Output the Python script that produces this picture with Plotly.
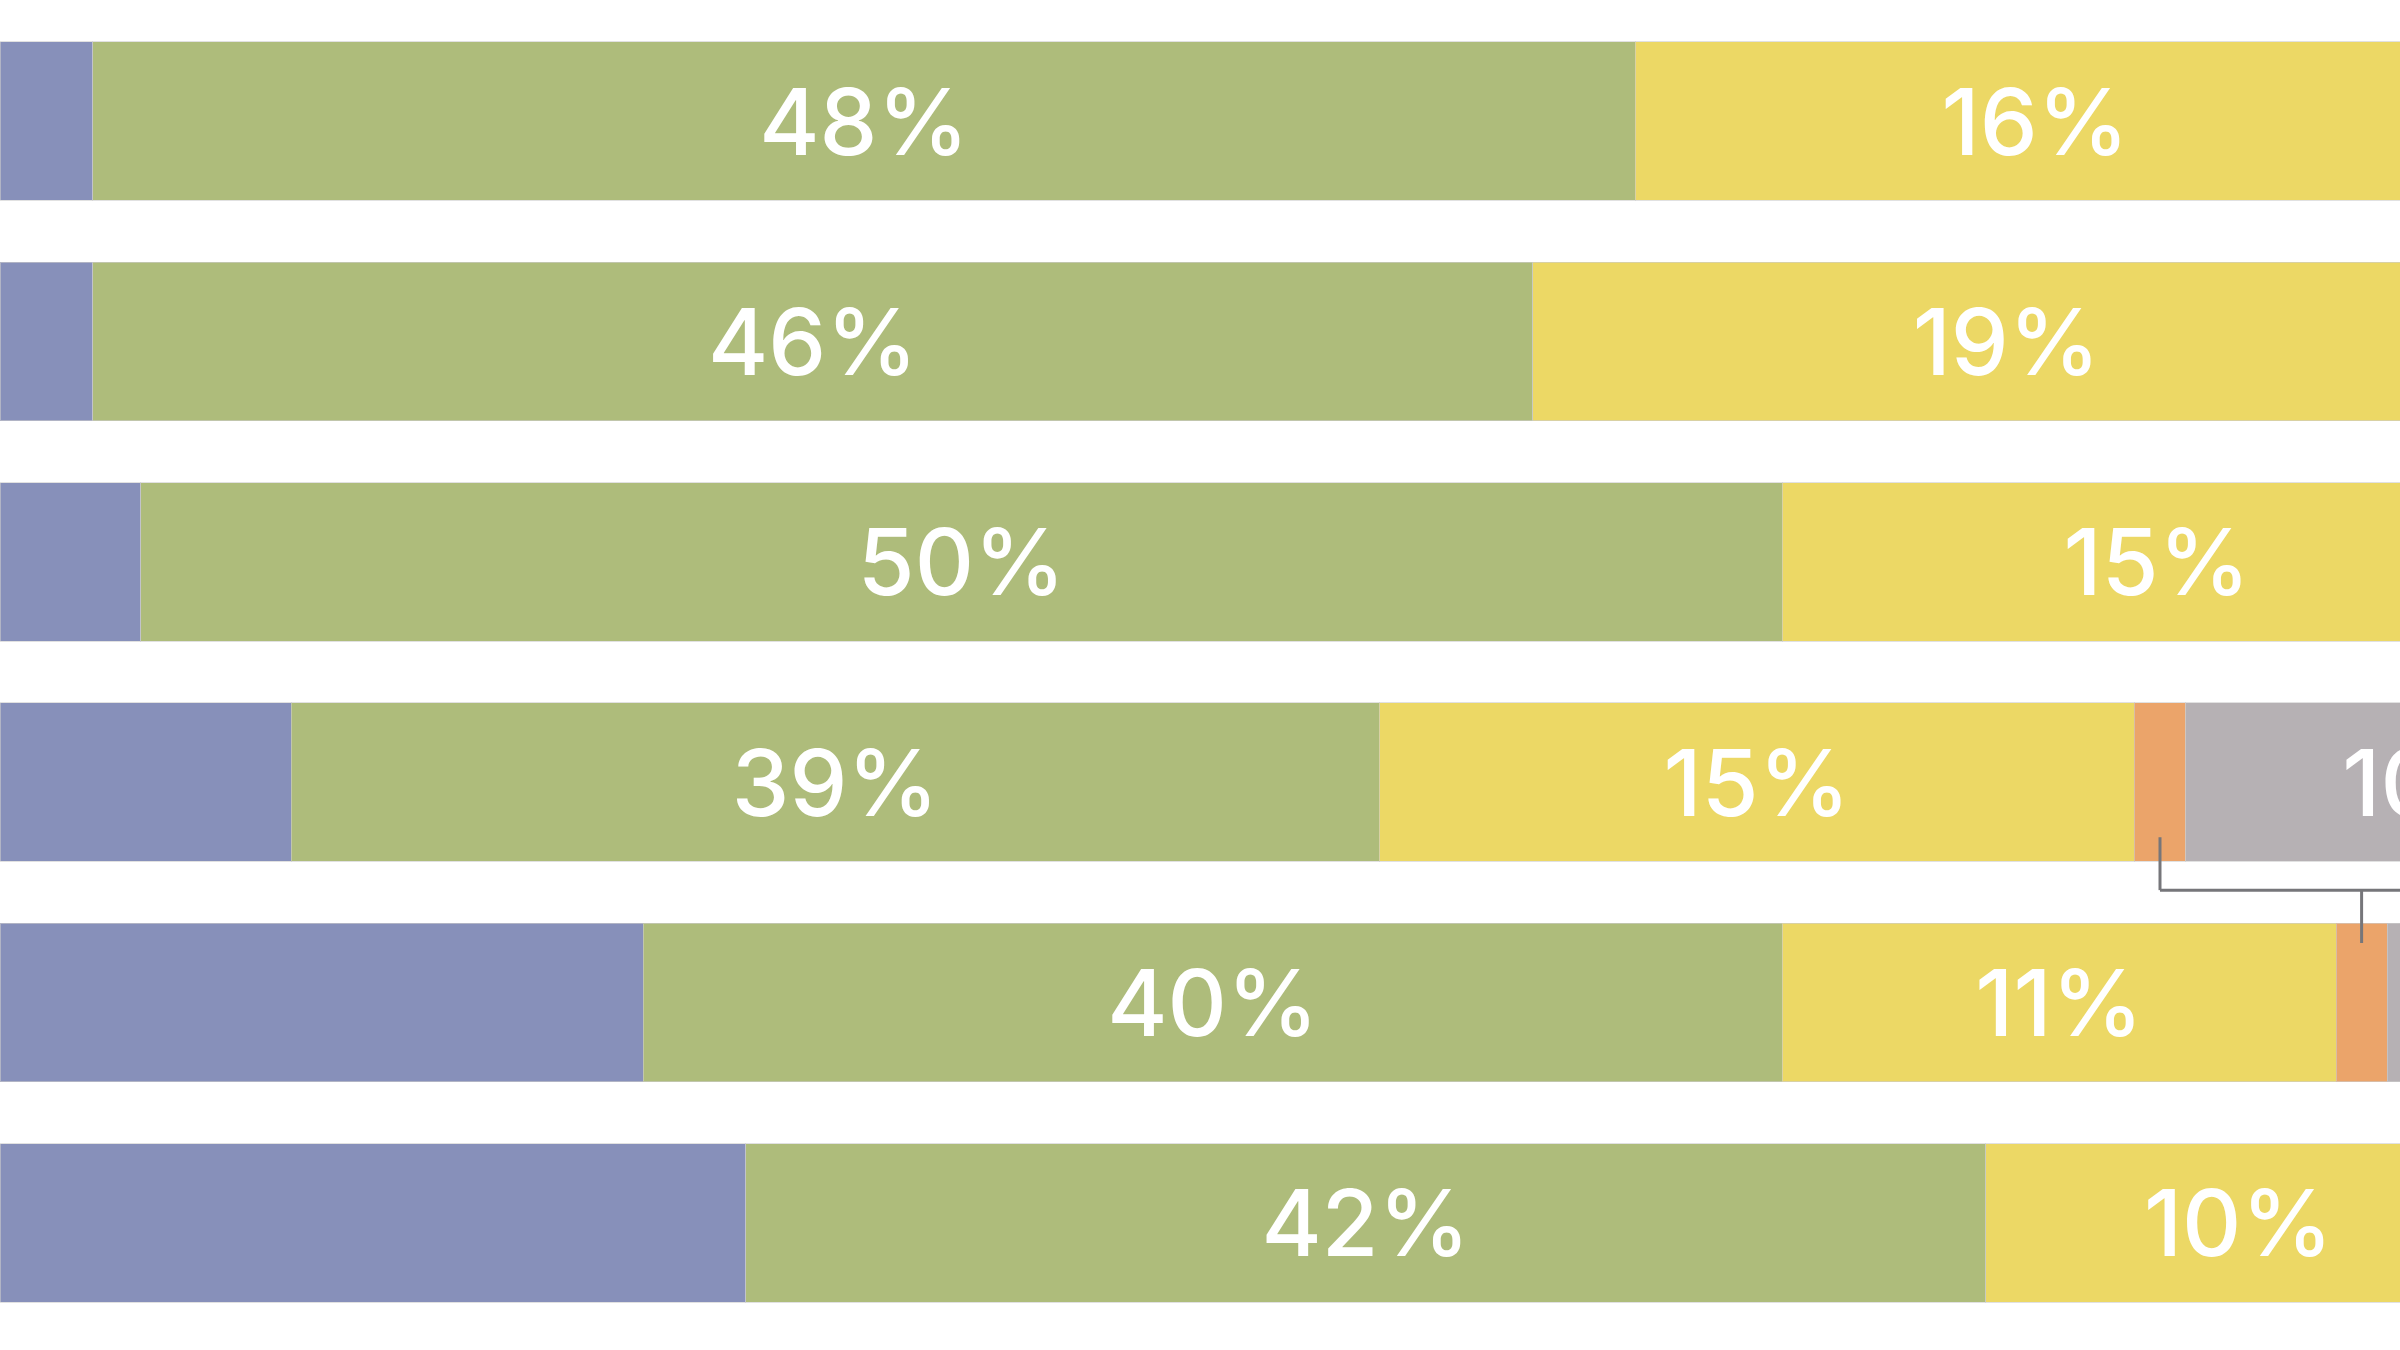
import plotly.graph_objects as go

# rows top to bottom
rows = [1, 2, 3, 4, 5, 6]

# segment widths (the chart is cropped on the right)
blue = [2.9, 2.9, 4.4, 9.1, 20.1, 23.3]
green = [48.2, 45.0, 51.3, 34.0, 35.6, 38.75]
yellow = [25.0, 29.6, 23.4, 23.6, 17.3, 15.8]
orange = [None, None, None, 1.6, 1.6, None]
gray = [None, None, None, 15.7, 10.0, None]

green_labels = ["48%", "46%", "50%", "39%", "40%", "42%"]
yellow_labels = ["16%", "19%", "15%", "15%", "11%", "10%"]
gray_labels = [None, None, None, "10%", None, None]

visible_max = 75

colors = {
    "blue": "#8790ba",
    "green": "#aebc7b",
    "yellow": "#ecd865",
    "orange": "#eba46a",
    "gray": "#b6b1b4",
}

fig = go.Figure()

segments = [
    ("blue", blue, None),
    ("green", green, green_labels),
    ("yellow", yellow, yellow_labels),
    ("orange", orange, None),
    ("gray", gray, gray_labels),
]

for name, values, labels in segments:
    fig.add_trace(
        go.Bar(
            y=rows,
            x=values,
            orientation="h",
            name=name,
            width=0.72,
            marker=dict(color=colors[name], line=dict(color="rgba(205,205,205,0.6)", width=1)),
            text=labels,
            textposition="inside" if labels else "none",
            insidetextanchor="middle",
            constraintext="none",
            textangle=0,
            textfont=dict(family="Inter", size=92, color="white", weight=500),
            hoverinfo="skip",
        )
    )


# connector between the two small orange segments (rows 4 and 5)
def orange_mid(i):
    return blue[i] + green[i] + yellow[i] + orange[i] / 2


xa = orange_mid(3)
xb = orange_mid(4)
ya = rows[3]
yb = rows[4]
line_style = dict(color="#76767a", width=3)
fig.add_shape(type="line", x0=xa, x1=xa, y0=ya + 0.25, y1=ya + 0.49, line=line_style)
fig.add_shape(type="line", x0=xa, x1=visible_max, y0=ya + 0.49, y1=ya + 0.49, line=line_style)
fig.add_shape(type="line", x0=xb, x1=xb, y0=ya + 0.49, y1=yb - 0.27, line=line_style)

fig.update_layout(
    width=2400,
    height=1350,
    barmode="stack",
    showlegend=False,
    paper_bgcolor="white",
    plot_bgcolor="white",
    margin=dict(l=0, r=0, t=11, b=17),
    xaxis=dict(visible=False, range=[0, visible_max]),
    yaxis=dict(visible=False, range=[6.5, 0.5]),
)

# drop the default page margin so the figure sits at the window's corner
fig.write_html(
    "out.html",
    config={"displayModeBar": False},
    post_script="document.body.style.margin='0';document.body.style.overflow='hidden';",
)
